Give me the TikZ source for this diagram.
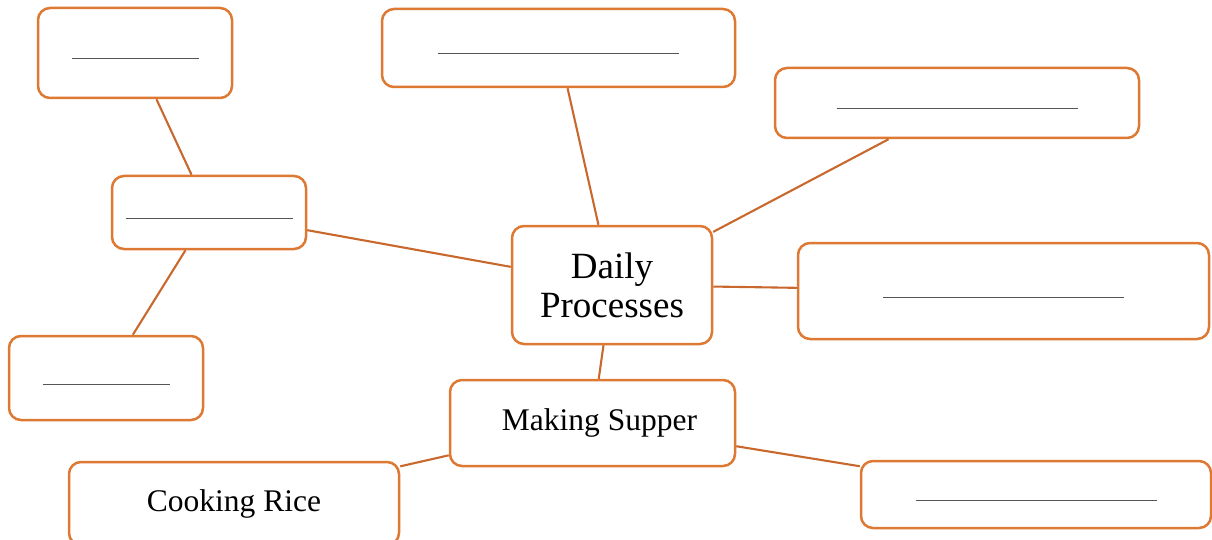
\documentclass[tikz,border=0pt]{standalone}
\usepackage{fontspec}
\setmainfont{Liberation Serif}
\usetikzlibrary{calc}
\definecolor{boxline}{RGB}{221,121,51}
\definecolor{linkline}{RGB}{201,104,45}
\definecolor{blankline}{RGB}{85,85,85}
\begin{document}
\begin{tikzpicture}[x=1pt,y=-1pt,
  box/.style={draw=boxline, line width=2.5pt, rounded corners=12pt,
    fill=white, inner sep=0pt, align=center,
    font=\fontsize{31.5}{34}\selectfont},
  link/.style={draw=linkline, line width=2.1pt},
  blank/.style={draw=blankline, line width=1pt}]
\useasboundingbox (0,0) rectangle (1212,540);

% topic boxes
\node[box, minimum width=194pt, minimum height=90pt]  (A) at (135,53) {};
\node[box, minimum width=194pt, minimum height=73pt]  (B) at (209,212.5) {};
\node[box, minimum width=194pt, minimum height=84pt]  (C) at (106,378) {};
\node[box, minimum width=353pt, minimum height=78pt]  (D) at (558.5,48) {};
\node[box, minimum width=364pt, minimum height=70pt]  (E) at (957,103) {};
\node[box, minimum width=200pt, minimum height=118pt,
      font=\fontsize{37}{39}\selectfont] (F) at (612,285) {Daily\\Processes};
\node[box, minimum width=411pt, minimum height=96pt]  (G) at (1003.5,291) {};
\node[box, minimum width=285pt, minimum height=86pt]  (H) at (592.5,423)
  {\raisebox{-3pt}{\hspace{14pt}Making Supper}};
\node[box, minimum width=330pt, minimum height=83pt]  (I) at (234,503.5)
  {\raisebox{-3pt}{Cooking Rice}};
\node[box, minimum width=350pt, minimum height=67pt]  (J) at (1036,494.5) {};

% connectors between boxes
\draw[link] (A) -- (B);
\draw[link] (B) -- (C);
\draw[link] (B) -- (F);
\draw[link] (D) -- (F);
\draw[link] (E) -- (F);
\draw[link] (F) -- (G);
\draw[link] (F) -- (H);
\draw[link] (H) -- (I);
\draw[link] (H) -- (J);

% fill-in blanks
\foreach \n/\w in {A/127,B/167,C/127,D/241,E/241,G/241,J/241}
  \draw[blank] ($(\n.center)+(-\w/2,6)$) -- ++(\w,0);
\end{tikzpicture}
\end{document}
